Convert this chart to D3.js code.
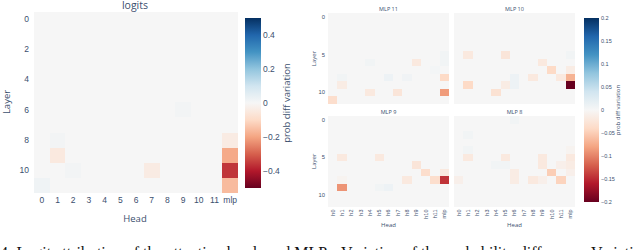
<!DOCTYPE html>
<html>
<head>
<meta charset="utf-8">
<script src="https://cdn.jsdelivr.net/npm/d3@7"></script>
<style>
  body { margin: 0; background: #fff; }
  svg { display: block; font-family: "Open Sans", sans-serif; }
  .tick text { fill: #3b4f6e; }
  .ttl { fill: #3b4f6e; text-anchor: middle; }
  .caption { font-family: "Liberation Serif", serif; font-size: 16px; fill: #111; }
</style>
</head>
<body>
<svg id="chart" width="640" height="250"></svg>
<script>
// categories
const layers = [0, 1, 2, 3, 4, 5, 6, 7, 8, 9, 10, 11];
const heads = ["0", "1", "2", "3", "4", "5", "6", "7", "8", "9", "10", "11", "mlp"];
const headsShort = ["h0", "h1", "h2", "h3", "h4", "h5", "h6", "h7", "h8", "h9", "h10", "h11", "mlp"];
const layerTicks = [0, 2, 4, 6, 8, 10];
const layerTicksSmall = [0, 5, 10];
const cbTicksBig = [-0.4, -0.2, 0, 0.2, 0.4];
const cbTicksSmall = [-0.2, -0.15, -0.1, -0.05, 0, 0.05, 0.1, 0.15, 0.2];

// RdBu diverging palette (red = negative, blue = positive)
const rdbu = ["rgb(103,0,31)", "rgb(178,24,43)", "rgb(214,96,77)", "rgb(244,165,130)",
  "rgb(253,219,199)", "rgb(246,246,246)", "rgb(209,229,240)", "rgb(146,197,222)",
  "rgb(67,147,195)", "rgb(33,102,172)", "rgb(5,48,97)"];
const rdbuInterp = d3.piecewise(d3.interpolateRgb, rdbu);

// prob diff variation, rows = layer, cols = head (last = mlp)
const logitsValues = [
  [0, 0, 0, 0, 0, 0, 0, 0, 0, 0, 0, 0, 0],
  [0, 0, 0, 0, 0, 0, 0, 0, 0, 0, 0, 0, 0],
  [0, 0, 0, 0, 0, 0, 0, 0, 0, 0, 0, 0, 0],
  [0, 0, 0, 0, 0, 0, 0, 0, 0, 0, 0, 0, 0],
  [0, 0, 0, 0, 0, 0, 0, 0, 0, 0, 0, 0, 0],
  [0, 0, 0, 0, 0, 0, 0, 0, 0, 0, 0, 0, 0],
  [0, 0, 0, 0, 0, 0, 0, 0, 0, 0.01, 0, 0, 0],
  [0, 0, 0, 0, 0, 0, 0, 0, 0, 0, 0, 0, 0],
  [0, 0.01, 0, 0, 0, 0, 0, 0, 0, 0, 0, 0, -0.04],
  [0, -0.05, 0, 0, 0, 0, 0, 0, 0, 0, 0, 0, -0.19],
  [0, 0, 0.01, 0, 0, 0, 0, -0.04, 0, 0, 0, 0, -0.36],
  [0.02, 0, 0, 0, 0, 0, 0, 0, 0, 0, 0, 0, -0.16]
];

const mlp11Values = [
  [0, 0, 0, 0, 0, 0, 0, 0, 0, 0, 0, 0, 0],
  [0, 0, 0, 0, 0, 0, 0, 0, 0, 0, 0, 0, 0],
  [0, 0, 0, 0, 0, 0, 0, 0, 0, 0, 0, 0, 0],
  [0, 0, 0, 0, 0, 0, 0, 0, 0, 0, 0, 0, 0],
  [0, 0, 0, 0, 0, 0, 0, 0, 0, 0, 0, 0, 0],
  [0, 0, 0, 0, 0, 0, 0, 0, 0, 0, 0, 0, 0.005],
  [0, 0, 0, 0, 0.005, 0, 0, 0, 0, -0.02, 0, 0, 0.005],
  [0, 0, 0, 0, 0, 0, 0, 0, 0, 0, 0, 0.003, 0],
  [0, 0.005, 0, 0, 0, 0, 0.01, 0, 0.006, 0, 0, 0, -0.04],
  [0, -0.015, 0, 0, 0, 0, 0, 0, 0, 0, 0, 0, 0],
  [0, 0, 0, 0, -0.02, 0, 0, -0.025, 0, 0, 0, 0, -0.085],
  [-0.035, 0, 0, 0, 0, 0, 0, 0, 0, 0, 0, 0, 0]
];

const mlp10Values = [
  [0, 0, 0, 0, 0, 0, 0, 0, 0, 0, 0, 0, 0],
  [0, 0, 0, 0, 0, 0, 0, 0, 0, 0, 0, 0, 0],
  [0, 0, 0, 0, 0, 0, 0, 0, 0, 0, 0, 0, 0],
  [0, 0, 0, 0, 0, 0, 0, 0, 0, 0, 0, 0, 0],
  [0, 0, 0, 0, 0, 0, 0, 0, 0, 0, 0, 0, 0],
  [0, -0.02, 0, 0, 0, -0.025, 0, 0, 0, 0, 0, 0, 0.005],
  [0, 0, 0, 0, 0, 0, 0, 0, 0, -0.02, 0, 0, 0],
  [0, 0, 0, 0, 0, 0, 0, 0, 0, 0, -0.04, 0, -0.015],
  [0, 0, 0, 0, 0, 0, 0.01, 0, -0.02, 0, 0, -0.02, -0.07],
  [0, -0.04, 0, 0, 0, -0.015, 0.01, 0, 0, 0, 0, 0, -0.2],
  [0, 0, 0, 0, -0.03, 0, 0, 0, 0, 0, 0, 0, 0],
  [0, 0, 0, 0, 0, 0, 0, 0, 0, 0, 0, 0, 0]
];

const mlp9Values = [
  [0, 0, 0, 0, 0, 0, 0, 0, 0, 0, 0, 0, 0],
  [0, 0, 0, 0, 0, 0, 0, 0, 0, 0, 0, 0, 0],
  [0, 0, 0, 0, 0, 0, 0, 0, 0, 0, 0, 0, 0],
  [0, 0, 0, 0, 0, 0, 0, 0, 0, 0, 0, 0, 0],
  [0, 0, 0, 0, 0, 0, 0, 0, 0, 0, 0, 0, 0],
  [0, -0.02, 0, 0, 0, -0.02, 0, 0, 0, 0, 0, 0, 0],
  [0, 0, 0, 0, 0, 0, 0, 0, 0, -0.025, 0, 0, 0],
  [0, 0, 0, 0, 0, 0, 0, 0, 0, 0, -0.035, 0, -0.02],
  [0, -0.005, 0, 0, 0, 0, 0, 0, -0.02, 0, 0, -0.035, -0.145],
  [0, -0.09, 0, 0, 0, 0.005, 0.01, 0, 0, 0, 0, 0, 0],
  [0, 0, 0, 0, 0, 0, 0, 0, 0, 0, 0, 0, 0],
  [0, 0, 0, 0, 0, 0, 0, 0, 0, 0, 0, 0, 0]
];

const mlp8Values = [
  [0, 0, 0, 0, 0, 0, 0.005, 0, 0, 0, 0, 0, 0],
  [0, 0, 0, 0, 0, 0, 0, 0, 0, 0, 0, 0, 0],
  [0, 0.005, 0, 0, 0, 0, 0, 0, 0, 0, 0, 0, 0],
  [0, 0, 0, 0, 0, 0, 0, 0, 0, 0, 0, 0, 0],
  [0, 0.005, 0, 0, 0, 0, 0, 0, 0, 0, 0, 0, -0.005],
  [0, -0.02, 0, 0, 0, -0.02, 0, 0, 0, -0.02, 0, 0, -0.02],
  [0, 0, 0, 0, 0.005, 0.005, 0, 0, 0, -0.02, 0, -0.01, -0.015],
  [0, 0, 0, 0, 0, 0, -0.015, 0, 0, 0, -0.05, 0, -0.01],
  [-0.01, 0, 0, 0, 0, 0, -0.015, 0, -0.02, -0.01, 0, -0.045, 0],
  [0, 0, 0, 0, 0, 0, 0, 0, 0, 0, 0, 0, 0],
  [0, 0, 0, 0, 0, 0, 0, 0, 0, 0, 0, 0, 0],
  [0, 0, 0, 0, 0, 0, 0, 0, 0, 0, 0, 0, 0]
];

const panels = [
  { title: "MLP 11", values: mlp11Values, col: 0, row: 0 },
  { title: "MLP 10", values: mlp10Values, col: 1, row: 0 },
  { title: "MLP 9", values: mlp9Values, col: 0, row: 1 },
  { title: "MLP 8", values: mlp8Values, col: 1, row: 1 }
];

const svg = d3.select("#chart");
const defs = svg.append("defs");
const fmt = d3.format("");

function drawCells(g, values, x, y, color) {
  values.forEach((row, i) => {
    g.selectAll(null)
      .data(row)
      .enter().append("rect")
      .attr("x", (d, j) => x(x.domain()[j]))
      .attr("y", y(layers[i]))
      .attr("width", x.bandwidth() + 0.3)
      .attr("height", y.bandwidth() + 0.3)
      .attr("fill", d => color(d));
  });
}

function colorbar(id, x0, w, scale, ticks, fontSize) {
  let grad = defs.append("linearGradient")
    .attr("id", id).attr("x1", 0).attr("y1", 1).attr("x2", 0).attr("y2", 0);
  d3.range(0, 1.0001, 0.05).forEach(t => {
    grad.append("stop").attr("offset", t).attr("stop-color", rdbuInterp(t));
  });
  let [lo, hi] = scale.range();
  svg.append("rect")
    .attr("x", x0).attr("y", hi).attr("width", w).attr("height", lo - hi)
    .attr("fill", `url(#${id})`);
  let ax = svg.append("g")
    .attr("transform", `translate(${x0 + w},0)`)
    .call(d3.axisRight(scale).tickValues(ticks).tickSize(0).tickPadding(2).tickFormat(fmt));
  ax.select(".domain").remove();
  ax.selectAll("text").attr("font-size", fontSize);
}

// ---- left: logits ----
{
  const x = d3.scaleBand().domain(heads).range([34, 238]);
  const y = d3.scaleBand().domain(layers).range([11.5, 193]);
  const color = d3.scaleSequential(rdbuInterp).domain([-0.5, 0.5]).clamp(true);
  const g = svg.append("g").attr("shape-rendering", "crispEdges");
  drawCells(g, logitsValues, x, y, color);

  let ya = svg.append("g").attr("transform", "translate(34,0)")
    .call(d3.axisLeft(y).tickValues(layerTicks).tickSize(0).tickPadding(5));
  ya.select(".domain").remove();
  ya.selectAll("text").attr("font-size", 8.5);

  let xa = svg.append("g").attr("transform", "translate(0,193)")
    .call(d3.axisBottom(x).tickSize(0).tickPadding(4));
  xa.select(".domain").remove();
  xa.selectAll("text").attr("font-size", 8.5);

  svg.append("text").attr("class", "ttl").attr("x", 135).attr("y", 8.5)
    .attr("font-size", 10.5).text("logits");
  svg.append("text").attr("class", "ttl").attr("x", 135).attr("y", 222)
    .attr("font-size", 9.5).text("Head");
  svg.append("text").attr("class", "ttl").attr("font-size", 9.5)
    .attr("transform", "translate(10,102) rotate(-90)").text("Layer");

  const cb = d3.scaleLinear().domain([-0.5, 0.5]).range([188, 18]);
  colorbar("grad-big", 245, 16, cb, cbTicksBig, 8.5);
  svg.append("text").attr("class", "ttl").attr("font-size", 9.5)
    .attr("transform", "translate(290,103) rotate(-90)").text("prob diff variation");
}

// ---- right: MLP panels ----
{
  const colX = [328, 454], rowY = [13.3, 116], pw = 121, ph = 90.5;
  const color = d3.scaleSequential(rdbuInterp).domain([-0.2, 0.2]).clamp(true);
  panels.forEach(p => {
    const x0 = colX[p.col], y0 = rowY[p.row];
    const x = d3.scaleBand().domain(headsShort).range([x0, x0 + pw]);
    const y = d3.scaleBand().domain(layers).range([y0, y0 + ph]);
    const g = svg.append("g").attr("shape-rendering", "crispEdges");
    drawCells(g, p.values, x, y, color);

    svg.append("text").attr("class", "ttl").attr("x", x0 + pw / 2).attr("y", y0 - 2.5)
      .attr("font-size", 5.5).text(p.title);

    if (p.col === 0) {
      let ya = svg.append("g").attr("transform", `translate(${x0},0)`)
        .call(d3.axisLeft(y).tickValues(layerTicksSmall).tickSize(0).tickPadding(3));
      ya.select(".domain").remove();
      ya.selectAll("text").attr("font-size", 5.8);
      svg.append("text").attr("class", "ttl").attr("font-size", 6)
        .attr("transform", `translate(316,${y0 + ph / 2}) rotate(-90)`).text("Layer");
    }
    if (p.row === 1) {
      let xa = svg.append("g").attr("transform", `translate(0,${y0 + ph})`)
        .call(d3.axisBottom(x).tickSize(0).tickPadding(0));
      xa.select(".domain").remove();
      xa.selectAll("text")
        .attr("font-size", 5.5)
        .attr("dy", "0.35em")
        .attr("y", 0)
        .attr("transform", "translate(0,3) rotate(-90)")
        .attr("text-anchor", "end");
      svg.append("text").attr("class", "ttl").attr("x", x0 + pw / 2).attr("y", 227)
        .attr("font-size", 6).text("Head");
    }
  });

  const cb = d3.scaleLinear().domain([-0.2, 0.2]).range([202, 18]);
  colorbar("grad-small", 584, 15, cb, cbTicksSmall, 5.5);
  svg.append("text").attr("class", "ttl").attr("font-size", 6)
    .attr("transform", "translate(620,110) rotate(-90)").text("prob diff variation");
}

// caption line of the paper, cut by the bottom edge
svg.append("text").attr("class", "caption").attr("x", 0).attr("y", 258)
  .text("4: Logit attribution of the attention heads and MLPs. Variation of the probability difference. Variation in the MLP outputs");
</script>
</body>
</html>
